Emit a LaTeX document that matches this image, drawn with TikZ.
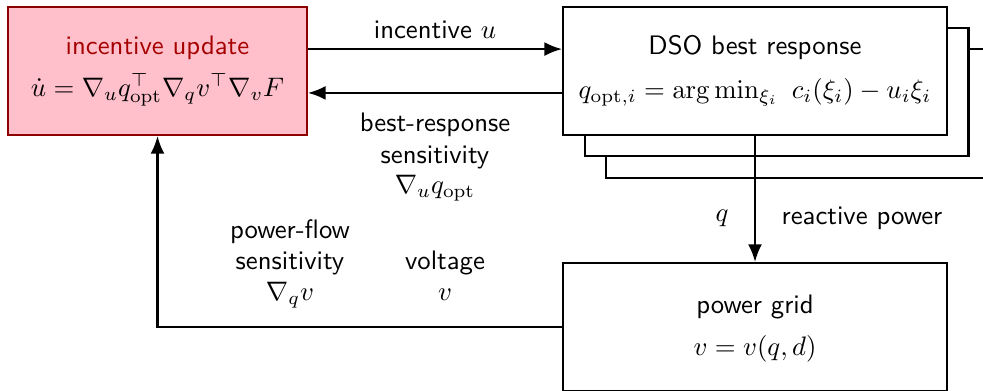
\documentclass[tikz,border=0pt]{standalone}
\usetikzlibrary{arrows.meta}
\definecolor{boxpink}{RGB}{255,192,203}
\definecolor{boxred}{RGB}{140,0,0}
\definecolor{txtred}{RGB}{165,0,0}
\begin{document}
\begin{tikzpicture}[x=0.374pt,y=-0.374pt,
  font=\sffamily,
  blk/.style={draw, line width=0.75pt, minimum width=143.6pt, minimum height=47.9pt, inner sep=0pt, fill=white},
  lbl/.style={inner sep=0pt, align=center},
  arr/.style={line width=0.75pt, -{Latex[length=6.6pt,width=5.2pt]}},
  ln/.style={line width=0.75pt}]
\useasboundingbox (0,0) rectangle (983,391);
% shadow stack
\node[blk] (sh2) at (798,113.5) {};
\node[blk] (sh1) at (776.5,92) {};
\node[blk] (dso) at (755,71) {};
\node[blk, fill=boxpink, draw=boxred, minimum width=111.8pt] (inc) at (157.5,71) {};
\node[blk] (grid) at (755,327) {};
% texts in boxes
\node[lbl, text=txtred] (t1) at (157.5,48) {incentive update};
\node[lbl] (t2) at (157.5,90) {$\dot u = \nabla_u q_{\mathrm{opt}}^\top \nabla_q v^\top \nabla_v F$};
\node[lbl] (t3) at (755,48) {DSO best response};
\node[lbl] (t4) at (755,92) {$q_{\mathrm{opt},i} = \arg\min_{\xi_i}\ c_i(\xi_i) - u_i\xi_i$};
\node[lbl] (t5) at (755,307) {power grid};
\node[lbl] (t6) at (755,349) {$v = v(q,d)$};
% connectors
\draw[arr] ([yshift=8.2pt]inc.east) -- ([yshift=8.2pt]dso.west);
\draw[arr] ([yshift=-8.2pt]dso.west) -- ([yshift=-8.2pt]inc.east);
\draw[arr] (dso.south) -- (grid.north);
\draw[arr] (grid.west) -| (inc.south);
% labels
\node[lbl] (l1) at (435,30) {incentive $u$};
\node[lbl] (l2) at (435,125) {best-response};
\node[lbl] (l3) at (435,157) {sensitivity};
\node[lbl] (l4) at (435,188) {$\nabla_u q_{\mathrm{opt}}$};
\node[lbl] (l5) at (722,218) {$q$};
\node[lbl] (l6) at (862,218) {reactive power};
\node[lbl] (l7) at (290,232) {power-flow};
\node[lbl] (l8) at (290,263) {sensitivity};
\node[lbl] (l9) at (290,295) {$\nabla_q v$};
\node[lbl] (l10) at (445,263) {voltage};
\node[lbl] (l11) at (445,295) {$v$};
\end{tikzpicture}
\end{document}
